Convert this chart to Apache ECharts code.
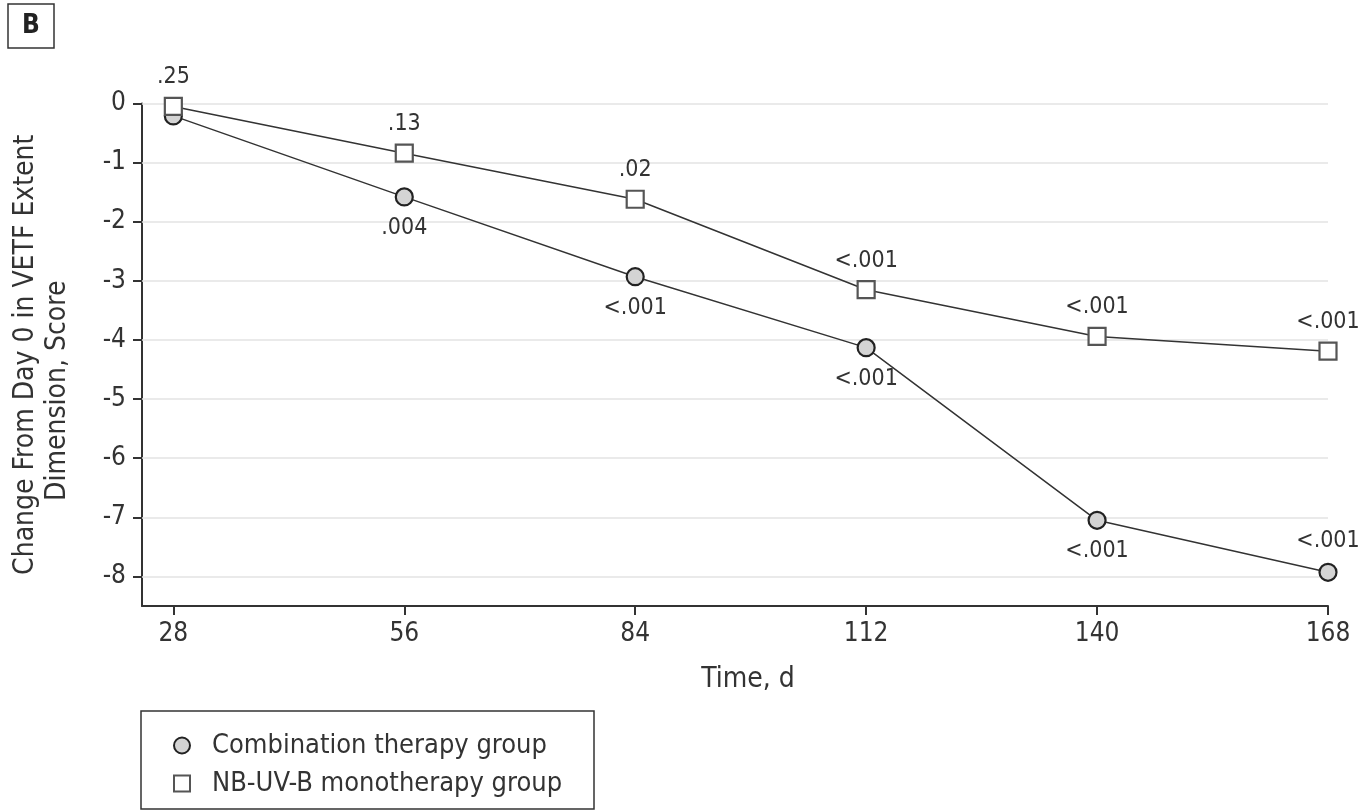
<!DOCTYPE html>
<html>
<head>
<meta charset="utf-8">
<script src="https://cdn.jsdelivr.net/npm/echarts@6/dist/echarts.min.js"></script>
<style>
  html, body { margin: 0; padding: 0; background: #fff; }
  #main { width: 1364px; height: 812px; }
</style>
</head>
<body>
<div id="main"></div>
<script>
// data
var days = [28, 56, 84, 112, 140, 168];
var combination = [-0.21, -1.58, -2.93, -4.13, -7.05, -7.93];
var monotherapy = [-0.05, -0.84, -1.62, -3.15, -3.94, -4.19];
var combinationP = ['', '.004', '<.001', '<.001', '<.001', '<.001'];
var monotherapyP = ['.25', '.13', '.02', '<.001', '<.001', '<.001'];
var yTicks = [0, -1, -2, -3, -4, -5, -6, -7, -8];

var FONT = '"DejaVu Sans Condensed", "DejaVu Sans", sans-serif';

function points(values, pvals, placeLabel) {
  return values.map(function (v, i) {
    return {
      value: [days[i], v],
      label: {
        show: pvals[i] !== '',
        position: placeLabel(i),
        formatter: pvals[i]
      }
    };
  });
}

var chart = echarts.init(document.getElementById('main'));

var option = {
  animation: false,
  backgroundColor: '#fff',
  textStyle: { fontFamily: FONT },
  title: {
    text: 'B',
    left: 8,
    top: 4,
    padding: [9, 14, 9, 14],
    borderColor: '#333',
    borderWidth: 1.5,
    textStyle: { fontFamily: FONT, fontSize: 26, fontWeight: 'bold', color: '#222', lineHeight: 26 }
  },
  grid: { left: 142, right: 36, top: 103.5, bottom: 206 },
  legend: {
    orient: 'vertical',
    left: 141,
    top: 711,
    padding: [21, 22, 12, 32],
    borderColor: '#333',
    borderWidth: 1.5,
    itemWidth: 16,
    itemHeight: 16,
    itemGap: 11,
    textStyle: {
      fontFamily: FONT, fontSize: 27, color: '#333', lineHeight: 26,
      padding: [0, 0, 0, 17], width: 360
    },
    data: [
      { name: 'Combination therapy group', icon: 'circle' },
      { name: 'NB-UV-B monotherapy group', icon: 'rect' }
    ]
  },
  xAxis: {
    type: 'value',
    min: 24.2,
    max: 168,
    name: 'Time, d',
    nameLocation: 'middle',
    nameGap: 60,
    nameTextStyle: { fontFamily: FONT, fontSize: 28, color: '#333', padding: [0, 0, 0, 26] },
    axisLine: { show: true, onZero: false, lineStyle: { color: '#333', width: 2 } },
    axisTick: { show: true, length: 9, lineStyle: { color: '#333', width: 2 }, customValues: days },
    axisLabel: { fontFamily: FONT, fontSize: 26, color: '#333', margin: 15, customValues: days },
    splitLine: { show: false }
  },
  yAxis: {
    type: 'value',
    min: -8.5,
    max: 0,
    name: 'Change From Day 0 in VETF Extent\nDimension, Score         ',
    nameLocation: 'middle',
    nameGap: 68,
    nameTextStyle: { fontFamily: FONT, fontSize: 28, color: '#333', lineHeight: 32 },
    axisLine: { show: true, onZero: false, lineStyle: { color: '#333', width: 2 } },
    axisTick: { show: true, length: 9, lineStyle: { color: '#333', width: 2 }, customValues: yTicks },
    axisLabel: { fontFamily: FONT, fontSize: 26, color: '#333', margin: 16, customValues: yTicks },
    splitLine: { show: false }
  },
  series: [
    {
      name: 'Combination therapy group',
      type: 'line',
      symbol: 'circle',
      symbolSize: 17,
      z: 3,
      lineStyle: { color: '#333', width: 1.5 },
      itemStyle: { color: '#d4d4d4', borderColor: '#222', borderWidth: 2.2 },
      label: { fontFamily: FONT, fontSize: 23, color: '#333', distance: 10 },
      data: points(combination, combinationP, function (i) {
        return i === days.length - 1 ? 'top' : 'bottom';
      }),
      markLine: {
        silent: true,
        symbol: 'none',
        z: 1,
        label: { show: false },
        lineStyle: { color: '#e3e3e3', width: 1.5, type: 'solid' },
        data: yTicks.map(function (t) { return { yAxis: t }; })
      }
    },
    {
      name: 'NB-UV-B monotherapy group',
      type: 'line',
      symbol: 'rect',
      symbolSize: 17,
      z: 4,
      lineStyle: { color: '#333', width: 1.5 },
      itemStyle: { color: '#fff', borderColor: '#555', borderWidth: 2.2 },
      label: { fontFamily: FONT, fontSize: 23, color: '#333', distance: 8 },
      data: points(monotherapy, monotherapyP, function () { return 'top'; })
    }
  ]
};

chart.setOption(option);
</script>
</body>
</html>
